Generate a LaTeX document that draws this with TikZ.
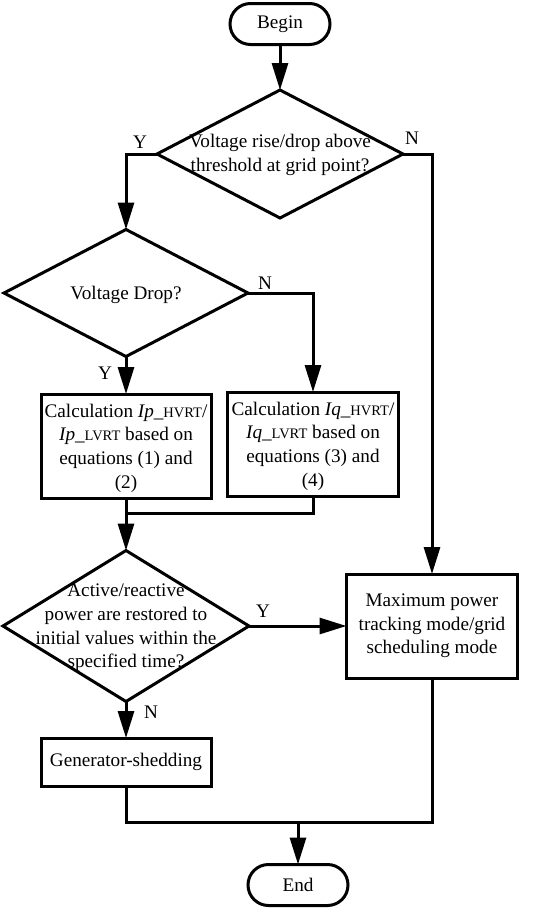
\documentclass[tikz,border=0pt]{standalone}
\usepackage{fontspec}
\setmainfont{Liberation Serif}
\usetikzlibrary{shapes.geometric,shapes.misc,arrows.meta}
\newcommand{\smallcaps}[1]{{\fontsize{14.5}{14.5}\selectfont #1}}
\begin{document}
\begin{tikzpicture}[x=1pt,y=-1pt,
  line width=3pt,
  every node/.style={font=\fontsize{19.2}{23.6}\selectfont},
  term/.style={draw, rounded rectangle, minimum width=100pt, minimum height=41pt, inner sep=0pt, outer sep=0pt},
  dia/.style={draw, diamond, inner sep=0pt, outer sep=0pt},
  box/.style={draw, rectangle, inner sep=0pt, outer sep=0pt},
  txt/.style={align=center, inner sep=0pt},
  lbl/.style={inner sep=0pt},
  arr/.style={-{Triangle[length=27pt,width=16pt]}}
]
\useasboundingbox (0,0) rectangle (538,911);

% nodes
\node[term] (begin) at (280,24) {Begin};
\node[dia, minimum width=246pt, minimum height=128pt] (d1) at (280,154) {};
\node[txt] (t1) at (280,155) {Voltage rise/drop above\\threshold at grid point?};

\node[dia, minimum width=244pt, minimum height=127pt] (d2) at (126,293) {};
\node[txt] (t2) at (126,295) {Voltage Drop?};

\node[box, minimum width=170pt, minimum height=104pt] (b1) at (126,446) {};
\node[txt] (tb1) at (126,448) {Calculation \textit{Ip}\_\smallcaps{HVRT}/\\\textit{Ip}\_\smallcaps{LVRT} based on\\equations (1) and\\(2)};

\node[box, minimum width=171pt, minimum height=104pt] (b2) at (313,444) {};
\node[txt] (tb2) at (313,446) {Calculation \textit{Iq}\_\smallcaps{HVRT}/\\\textit{Iq}\_\smallcaps{LVRT} based on\\equations (3) and\\(4)};

\node[dia, minimum width=246pt, minimum height=151pt] (d3) at (126,626) {};
\node[txt] (t3) at (126,628) {Active/reactive\\power are restored to\\initial values within the\\specified time?};

\node[box, minimum width=171pt, minimum height=104pt, txt, draw] (mx) at (432,626) {Maximum power\\tracking mode/grid\\scheduling mode};

\node[box, minimum width=170pt, minimum height=48pt] (gen) at (126,762) {Generator-shedding};

\node[term] (end) at (298,885) {End};

% labels
\node[lbl] (y1) at (140,142) {Y};
\node[lbl] (n1) at (412,138) {N};
\node[lbl] (n2) at (265,283) {N};
\node[lbl] (y2) at (105,373) {Y};
\node[lbl] (y3) at (263,611) {Y};
\node[lbl] (n3) at (151,712) {N};

% connectors
\draw[arr] (begin.south) -- (d1.north);
\draw[arr] (d1.west) -| (d2.north);
\draw[arr] (d1.east) -| (mx.north);
\draw[arr] (d2.east) -| (b2.north);
\draw[arr] (d2.south) -- (b1.north);
\coordinate (m1) at (126,513);
\draw (b2.south) |- (m1);
\draw[arr] (b1.south) -- (d3.north);
\draw[arr] (d3.east) -- (mx.west);
\draw[arr] (d3.south) -- (gen.north);
\coordinate (m2) at (298,822);
\draw (gen.south) |- (mx.south |- m2) -- (mx.south);
\draw[arr] (m2) -- (end.north);
\end{tikzpicture}
\end{document}
